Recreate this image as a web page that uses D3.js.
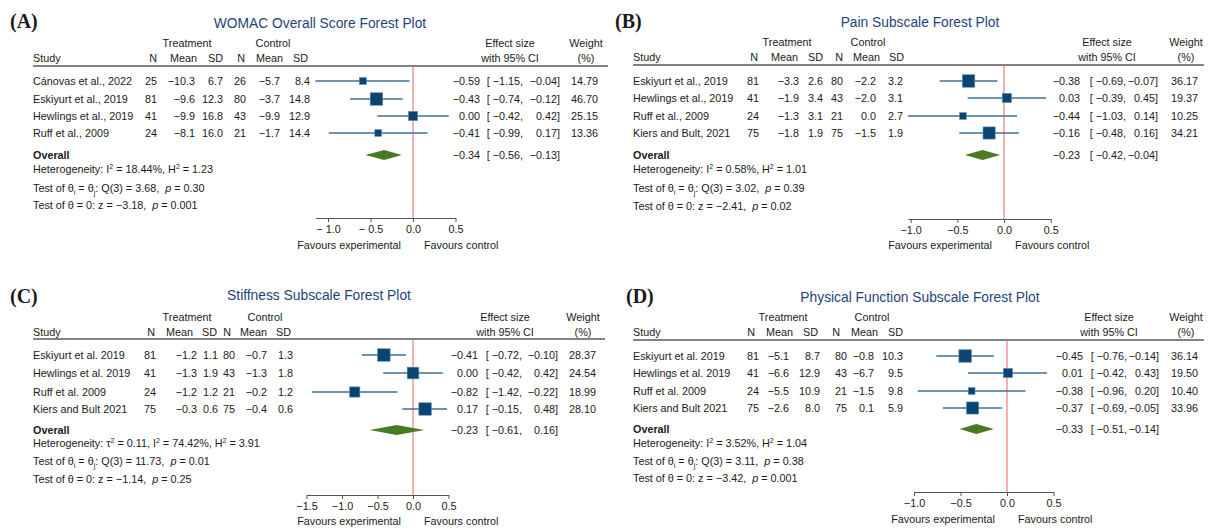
<!DOCTYPE html>
<html><head><meta charset="utf-8">
<script src="https://cdn.jsdelivr.net/npm/d3@7"></script>
<style>
body{margin:0;background:#fff}
svg text{font-family:"Liberation Sans",Arial,Helvetica,sans-serif;fill:#1a1a1a}
</style>
</head><body>
<svg id="chart" width="1208" height="528"></svg>
<script>
// ---------------- DATA ----------------
// Panel A: WOMAC overall
const studiesA = ["Cánovas et al., 2022","Eskiyurt et al., 2019","Hewlings et al., 2019","Ruff et al., 2009"];
const treatNA = [25,81,41,24];
const treatMeanA = [-10.3,-9.6,-9.9,-8.1];
const treatSDA = [6.7,12.3,16.8,16.0];
const ctrlNA = [26,80,43,21];
const ctrlMeanA = [-5.7,-3.7,-9.9,-1.7];
const ctrlSDA = [8.4,14.8,12.9,14.4];
const esA = [-0.59,-0.43,0.00,-0.41];
const loA = [-1.15,-0.74,-0.42,-0.99];
const hiA = [-0.04,-0.12,0.42,0.17];
const weightA = [14.79,46.70,25.15,13.36];
const overallA = [-0.34,-0.56,-0.13];
const hetA = {tau2:null, I2:"18.44%", H2:"1.23", Q:"3.68", df:3, pQ:"0.30", z:"−3.18", pZ:"0.001"};
const ticksA = [-1.0,-0.5,0.0,0.5];

// Panel B: Pain
const studiesB = ["Eskiyurt et al., 2019","Hewlings et al., 2019","Ruff et al., 2009","Kiers and Bult, 2021"];
const treatNB = [81,41,24,75];
const treatMeanB = [-3.3,-1.9,-1.3,-1.8];
const treatSDB = [2.6,3.4,3.1,1.9];
const ctrlNB = [80,43,21,75];
const ctrlMeanB = [-2.2,-2.0,0.0,-1.5];
const ctrlSDB = [3.2,3.1,2.7,1.9];
const esB = [-0.38,0.03,-0.44,-0.16];
const loB = [-0.69,-0.39,-1.03,-0.48];
const hiB = [-0.07,0.45,0.14,0.16];
const weightB = [36.17,19.37,10.25,34.21];
const overallB = [-0.23,-0.42,-0.04];
const hetB = {tau2:null, I2:"0.58%", H2:"1.01", Q:"3.02", df:3, pQ:"0.39", z:"−2.41", pZ:"0.02"};
const ticksB = [-1.0,-0.5,0.0,0.5];

// Panel C: Stiffness
const studiesC = ["Eskiyurt et al. 2019","Hewlings et al. 2019","Ruff et al. 2009","Kiers and Bult 2021"];
const treatNC = [81,41,24,75];
const treatMeanC = [-1.2,-1.3,-1.2,-0.3];
const treatSDC = [1.1,1.9,1.2,0.6];
const ctrlNC = [80,43,21,75];
const ctrlMeanC = [-0.7,-1.3,-0.2,-0.4];
const ctrlSDC = [1.3,1.8,1.2,0.6];
const esC = [-0.41,0.00,-0.82,0.17];
const loC = [-0.72,-0.42,-1.42,-0.15];
const hiC = [-0.10,0.42,-0.22,0.48];
const weightC = [28.37,24.54,18.99,28.10];
const overallC = [-0.23,-0.61,0.16];
const hetC = {tau2:"0.11", I2:"74.42%", H2:"3.91", Q:"11.73", df:3, pQ:"0.01", z:"−1.14", pZ:"0.25"};
const ticksC = [-1.5,-1.0,-0.5,0.0,0.5];

// Panel D: Physical function
const studiesD = ["Eskiyurt et al. 2019","Hewlings et al. 2019","Ruff et al. 2009","Kiers and Bult 2021"];
const treatND = [81,41,24,75];
const treatMeanD = [-5.1,-6.6,-5.5,-2.6];
const treatSDD = [8.7,12.9,10.9,8.0];
const ctrlND = [80,43,21,75];
const ctrlMeanD = [-0.8,-6.7,-1.5,0.1];
const ctrlSDD = [10.3,9.5,9.8,5.9];
const esD = [-0.45,0.01,-0.38,-0.37];
const loD = [-0.76,-0.42,-0.96,-0.69];
const hiD = [-0.14,0.43,0.20,-0.05];
const weightD = [36.14,19.50,10.40,33.96];
const overallD = [-0.33,-0.51,-0.14];
const hetD = {tau2:null, I2:"3.52%", H2:"1.04", Q:"3.11", df:3, pQ:"0.38", z:"−3.42", pZ:"0.001"};
const ticksD = [-1.0,-0.5,0.0,0.5];

const colHeaders = ["N","Mean","SD","N","Mean","SD"];

// ---------------- LAYOUT ----------------
const panels = [
 {label:"(A)", title:"WOMAC Overall Score Forest Plot",
  studies:studiesA, cols:[treatNA,treatMeanA,treatSDA,ctrlNA,ctrlMeanA,ctrlSDA],
  es:esA, lo:loA, hi:hiA, w:weightA, overall:overallA, het:hetA, ticks:ticksA, spacedMinus:true,
  L:{labelX:10,labelY:28,titleX:320,titleY:23,grpY:43,hdrY:58,lineY:66,lineX1:33,lineX2:608,studyX:33,
     colR:[157,195,223,246,280,310],hdrR:[157,197,223,245,283,308],treatC:187,ctrlC:273,
     rowY:[81,99,116,133],overallY:155,hetY:[173,192,209],axisY:218,favY:245,
     xRange:[315.25,455.5],estR:480,lowR:524,upR:560,wR:598,effC:510,wC:586}},
 {label:"(B)", title:"Pain Subscale Forest Plot",
  studies:studiesB, cols:[treatNB,treatMeanB,treatSDB,ctrlNB,ctrlMeanB,ctrlSDB],
  es:esB, lo:loB, hi:hiB, w:weightB, overall:overallB, het:hetB, ticks:ticksB, spacedMinus:false,
  L:{labelX:615,labelY:28,titleX:920,titleY:22,grpY:42,hdrY:57,lineY:65,lineX1:633,lineX2:1204,studyX:633,
     colR:[759,799,823,843,876,903],hdrR:[758,798,823,843,880,904],treatC:787,ctrlC:868,
     rowY:[81,98,116,133],overallY:155,hetY:[173,192,210],axisY:219,favY:245,
     xRange:[907.9,1050.7],estR:1080,lowR:1127,upR:1158,wR:1198,effC:1107,wC:1186}},
 {label:"(C)", title:"Stiffness Subscale Forest Plot",
  studies:studiesC, cols:[treatNC,treatMeanC,treatSDC,ctrlNC,ctrlMeanC,ctrlSDC],
  es:esC, lo:loC, hi:hiC, w:weightC, overall:overallC, het:hetC, ticks:ticksC, spacedMinus:false,
  L:{labelX:10,labelY:303,titleX:319,titleY:295,grpY:317,hdrY:332,lineY:339,lineX1:33,lineX2:605,studyX:33,
     colR:[156,197,218,235,267,293],hdrR:[155,193,217,231,267,291],treatC:187,ctrlC:265,
     rowY:[355,373,392,409],overallY:430,hetY:[447,465,483],axisY:495,favY:521,
     xRange:[306.5,448.5],estR:478,lowR:523,upR:558,wR:596,effC:505,wC:583}},
 {label:"(D)", title:"Physical Function Subscale Forest Plot",
  studies:studiesD, cols:[treatND,treatMeanD,treatSDD,ctrlND,ctrlMeanD,ctrlSDD],
  es:esD, lo:loD, hi:hiD, w:weightD, overall:overallD, het:hetD, ticks:ticksD, spacedMinus:false,
  L:{labelX:626,labelY:303,titleX:920,titleY:297,grpY:317,hdrY:332,lineY:340,lineX1:633,lineX2:1204,studyX:633,
     colR:[759,789,820,847,874,903],hdrR:[755,793,818,840,878,903],treatC:783,ctrlC:872,
     rowY:[356,373,391,408],overallY:429,hetY:[447,465,482],axisY:492,favY:519,
     xRange:[914,1053.5],estR:1083,lowR:1128,upR:1159,wR:1198,effC:1109,wC:1186}}
];

const FS = 10.8;
const svg = d3.select("#chart");
const f1 = d3.format(".1f"), f2 = d3.format(".2f"), fInt = d3.format("d");

function txt(g, x, y, s, anchor, opts={}) {
  const t = g.append("text").attr("x", x).attr("y", y).attr("dy", "0.36em")
    .attr("text-anchor", anchor || "start").attr("font-size", opts.size || FS)
    .style("white-space","pre").text(s);
  if (opts.weight) t.attr("font-weight", opts.weight);
  if (opts.fill) t.style("fill", opts.fill);
  if (opts.family) t.style("font-family", opts.family);
  return t;
}

function richLine(g, x, y, segs) {
  const t = g.append("text").attr("x", x).attr("y", y).attr("dy","0.36em")
    .attr("font-size", FS).style("white-space","pre");
  let shift = 0;
  segs.forEach(s => {
    const sp = t.append("tspan").text(s.t);
    let target = 0, size = FS;
    if (s.sup) { target = -4; size = 7; }
    if (s.sub) { target = 2.5; size = 7; }
    sp.attr("dy", target - shift).attr("font-size", size);
    if (s.it) sp.attr("font-style","italic");
    shift = target;
  });
  return t;
}

function effectText(g, L, y, e, lo, hi) {
  txt(g, L.estR, y, f2(e), "end");
  txt(g, L.lowR - 1, y, "[ " + f2(lo) + ",", "end");
  txt(g, L.upR, y, f2(hi) + "]", "end");
}

function drawPanel(p) {
  const L = p.L;
  const g = svg.append("g");
  txt(g, L.labelX, L.labelY, p.label, "start", {size:20, weight:"bold", family:'"Liberation Serif","Times New Roman",serif'}).attr("dy", null);
  txt(g, L.titleX, L.titleY, p.title, "middle", {size:13.8, fill:"#1f4478"});
  txt(g, L.treatC, L.grpY, "Treatment", "middle");
  txt(g, L.ctrlC, L.grpY, "Control", "middle");
  txt(g, L.effC, L.grpY, "Effect size", "middle");
  txt(g, L.effC, L.hdrY, "with 95% CI", "middle");
  txt(g, L.wC, L.grpY, "Weight", "middle");
  txt(g, L.wC, L.hdrY, "(%)", "middle");
  txt(g, L.studyX, L.hdrY, "Study", "start");
  colHeaders.forEach((h, i) => txt(g, L.hdrR[i], L.hdrY, h, "end"));
  g.append("line").attr("x1", L.lineX1).attr("x2", L.lineX2).attr("y1", L.lineY).attr("y2", L.lineY)
    .attr("stroke", "#5a5a5a").attr("stroke-width", 1.4);

  const domain = [Math.min(d3.min(p.lo), d3.min(p.ticks)), Math.max(d3.max(p.hi), d3.max(p.ticks))];
  const x = d3.scaleLinear().domain(domain).range(L.xRange);

  g.append("line").attr("x1", x(0)).attr("x2", x(0)).attr("y1", L.lineY + 1).attr("y2", L.axisY)
    .attr("stroke", "#f27a7a").attr("stroke-width", 1.2);

  const maxW = d3.max(p.w);
  p.studies.forEach((s, i) => {
    const y = L.rowY[i];
    txt(g, L.studyX, y, s, "start");
    p.cols.forEach((col, j) => {
      const str = (j === 0 || j === 3) ? fInt(col[i]) : f1(col[i]);
      txt(g, L.colR[j], y, str, "end");
    });
    g.append("line").attr("x1", x(p.lo[i])).attr("x2", x(p.hi[i])).attr("y1", y).attr("y2", y)
      .attr("stroke", "#3f719a").attr("stroke-width", 1.3);
    const side = 12.5 * Math.sqrt(p.w[i] / maxW);
    g.append("rect").attr("x", x(p.es[i]) - side/2).attr("y", y - side/2)
      .attr("width", side).attr("height", side)
      .attr("fill", "#0c4471").attr("stroke", "#5d8bb1").attr("stroke-width", 0.6);
    effectText(g, L, y, p.es[i], p.lo[i], p.hi[i]);
    txt(g, L.wR, y, f2(p.w[i]), "end");
  });

  const oy = L.overallY;
  txt(g, L.studyX, oy, "Overall", "start", {weight:"bold"});
  const [oe, ol, oh] = p.overall;
  g.append("path")
    .attr("d", `M${x(ol)},${oy} L${x(oe)},${oy-5} L${x(oh)},${oy} L${x(oe)},${oy+5} Z`)
    .attr("fill", "#4a7b22");
  effectText(g, L, oy, oe, ol, oh);

  const h = p.het;
  const segs = [{t:"Heterogeneity: "}];
  if (h.tau2) { segs.push({t:"τ"},{t:"2",sup:true},{t:" = " + h.tau2 + ", "}); }
  segs.push({t:"I"},{t:"2",sup:true},{t:" = " + h.I2 + ", H"},{t:"2",sup:true},{t:" = " + h.H2});
  richLine(g, L.studyX, L.hetY[0], segs);
  richLine(g, L.studyX, L.hetY[1], [{t:"Test of θ"},{t:"i",sub:true},{t:" = θ"},{t:"j",sub:true},
    {t:": Q(" + h.df + ") = " + h.Q + ",  "},{t:"p",it:true},{t:" = " + h.pQ}]);
  richLine(g, L.studyX, L.hetY[2], [{t:"Test of θ = 0: z = " + h.z + ",  "},{t:"p",it:true},{t:" = " + h.pZ}]);

  const fmt = p.spacedMinus ? (v => v < 0 ? "− " + d3.format(".1f")(-v) : d3.format(".1f")(v)) : d3.format(".1f");
  const ax = g.append("g").attr("transform", `translate(0,${L.axisY})`)
    .call(d3.axisBottom(x).tickValues(p.ticks).tickFormat(fmt).tickSize(4).tickSizeOuter(0).tickPadding(3));
  ax.attr("font-family", null).attr("font-size", null);
  ax.select(".domain").attr("stroke", "#555").attr("stroke-width", 1.1);
  ax.selectAll(".tick line").attr("stroke", "#555");
  ax.selectAll(".tick text").attr("font-size", FS).style("fill", "#1a1a1a").style("white-space","pre");

  txt(g, x(0) - 12, L.favY, "Favours experimental", "end");
  txt(g, x(0) + 11, L.favY, "Favours control", "start");
}

panels.forEach(drawPanel);
</script>
</body></html>
